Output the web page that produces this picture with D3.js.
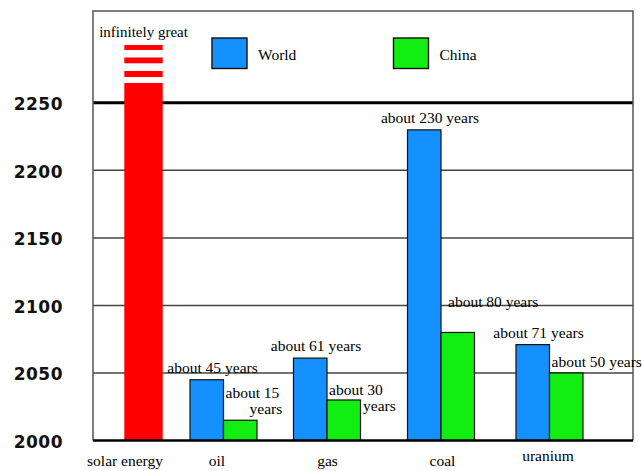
<!DOCTYPE html>
<html>
<head>
<meta charset="utf-8">
<script src="https://cdn.jsdelivr.net/npm/d3@7/dist/d3.min.js"></script>
<style>
  html, body { margin: 0; padding: 0; background: #fff; }
  svg { display: block; }
</style>
</head>
<body>
<svg id="chart" width="642" height="471"></svg>
<script>
// Remaining years of supply for each energy resource, counted from 2000.
const categories = ["solar energy", "oil", "gas", "coal", "uranium"];
const resources = ["oil", "gas", "coal", "uranium"];
const worldYears = [45, 61, 230, 71];
const chinaYears = [15, 30, 80, 50];
const baseYear = 2000;
const yTicks = [2000, 2050, 2100, 2150, 2200, 2250];
const seriesNames = ["World", "China"];
const solarText = "infinitely great";

const colors = { World: "#1490ff", China: "#12ee12", solar: "#ff0000" };
const serif = "'Liberation Serif', 'Times New Roman', serif";

const svg = d3.select("#chart");
const plot = { left: 93, right: 633, top: 11, bottom: 440.5 };

const y = d3.scaleLinear().domain([baseYear, 2318]).range([plot.bottom, plot.top]);
// Group centres along the x axis (the groups are spaced unevenly).
const x = d3.scaleOrdinal().domain(categories).range([143.5, 223.5, 327, 441, 549.5]);
const barW = 33.5;
const series = d3.scaleBand().domain(seriesNames).range([-barW, barW]);

// Horizontal year lines
const grid = svg.append("g");
grid.selectAll("line.year")
  .data(yTicks.filter(t => t !== baseYear))
  .join("line")
  .attr("x1", plot.left).attr("x2", plot.right)
  .attr("y1", d => y(d)).attr("y2", d => y(d))
  .attr("stroke", d => d === 2250 ? "#000" : "#444")
  .attr("stroke-width", d => d === 2250 ? 3 : 1.5);

// Frame (left, top, right)
svg.append("path")
  .attr("d", `M${plot.left},${plot.bottom}V${plot.top}H${plot.right}V${plot.bottom}`)
  .attr("fill", "none").attr("stroke", "#555").attr("stroke-width", 1.5);

// Y axis labels
const yAxis = d3.axisLeft(y).tickValues(yTicks).tickSize(0).tickPadding(0).tickFormat(d3.format("d"));
const yG = svg.append("g").attr("transform", "translate(63,0)").call(yAxis);
yG.select(".domain").remove();
yG.selectAll("text")
  .attr("font-family", "'DejaVu Sans', sans-serif")
  .attr("font-weight", "bold")
  .attr("font-size", 17)
  .attr("letter-spacing", 0.5)
  .attr("fill", "#111")
  .attr("dy", "0.4em");

// Solar energy bar: unbounded, drawn to the top with a broken end
const solarX = x("solar energy") - 19.2;
const solarTop = 45;
svg.append("rect")
  .attr("x", solarX).attr("width", 38.4)
  .attr("y", solarTop).attr("height", plot.bottom - solarTop)
  .attr("fill", colors.solar);
[[50, 57.5], [63.3, 71], [77, 83]].forEach(([a, b]) => {
  svg.append("rect").attr("x", solarX - 1).attr("width", 40.4)
    .attr("y", a).attr("height", b - a).attr("fill", "#fff");
});
svg.append("text")
  .attr("x", x("solar energy")).attr("y", 37)
  .attr("text-anchor", "middle")
  .attr("font-family", serif).attr("font-size", 15)
  .text(solarText);

// Resource bars
const rows = resources.map((r, i) => ({ r, World: worldYears[i], China: chinaYears[i] }));
const groups = svg.append("g").selectAll("g")
  .data(rows).join("g")
  .attr("transform", d => `translate(${x(d.r)},0)`);

groups.selectAll("rect")
  .data(d => seriesNames.map(s => ({ s, v: d[s] })))
  .join("rect")
  .attr("x", d => series(d.s))
  .attr("width", series.bandwidth())
  .attr("y", d => y(baseYear + d.v))
  .attr("height", d => plot.bottom - y(baseYear + d.v))
  .attr("fill", d => colors[d.s])
  .attr("stroke", "#111").attr("stroke-width", 1.2);

// Baseline
svg.append("line")
  .attr("x1", plot.left).attr("x2", plot.right)
  .attr("y1", plot.bottom).attr("y2", plot.bottom)
  .attr("stroke", "#000").attr("stroke-width", 2.5);

// Value labels
const labelFont = g => g.attr("font-family", serif).attr("font-size", 15.5).attr("fill", "#000");

// World: centred just above its bar
groups.append("text")
  .attr("x", -11)
  .attr("y", d => y(baseYear + d.World) - 7)
  .attr("text-anchor", "middle")
  .call(labelFont)
  .text(d => `about ${d.World} years`);

// China: to the right, wrapped onto two lines for the short bars
const chinaLift = { oil: 22, gas: 5, coal: 25, uranium: 6 };
const chinaShift = { oil: 0, gas: 0, coal: 5, uranium: 0 };
const chinaWrap = { oil: 24, gas: 34 };
groups.each(function (d) {
  const g = d3.select(this);
  const left = series("China") + 2 + chinaShift[d.r];
  const base = y(baseYear + d.China) - chinaLift[d.r];
  if (chinaWrap[d.r] !== undefined) {
    g.append("text").attr("x", left).attr("y", base).call(labelFont).text(`about ${d.China}`);
    g.append("text").attr("x", left + chinaWrap[d.r]).attr("y", base + 16).call(labelFont).text("years");
  } else {
    g.append("text").attr("x", left).attr("y", base).call(labelFont).text(`about ${d.China} years`);
  }
});

// Category labels under the axis
const xAxis = d3.axisBottom(x).tickSize(0).tickPadding(0);
const xG = svg.append("g").attr("transform", `translate(0,${plot.bottom})`).call(xAxis);
xG.select(".domain").remove();
const xNudge = { "solar energy": [-19, 25], oil: [-7, 25], gas: [0, 25], coal: [1, 25], uranium: [-2, 20] };
xG.selectAll("text")
  .attr("font-family", serif).attr("font-size", 15.5).attr("fill", "#000")
  .attr("dy", null)
  .attr("x", d => xNudge[d][0])
  .attr("y", d => xNudge[d][1]);

// Legend
const legend = svg.append("g");
const legendX = { World: 212, China: 393.5 };
seriesNames.forEach(s => {
  legend.append("rect")
    .attr("x", legendX[s]).attr("y", 38).attr("width", 35).attr("height", 30.5)
    .attr("fill", colors[s]).attr("stroke", "#111").attr("stroke-width", 1.4);
  legend.append("text")
    .attr("x", legendX[s] + 46).attr("y", 59.5)
    .attr("font-family", serif).attr("font-size", 15.5)
    .text(s);
});
</script>
</body>
</html>
